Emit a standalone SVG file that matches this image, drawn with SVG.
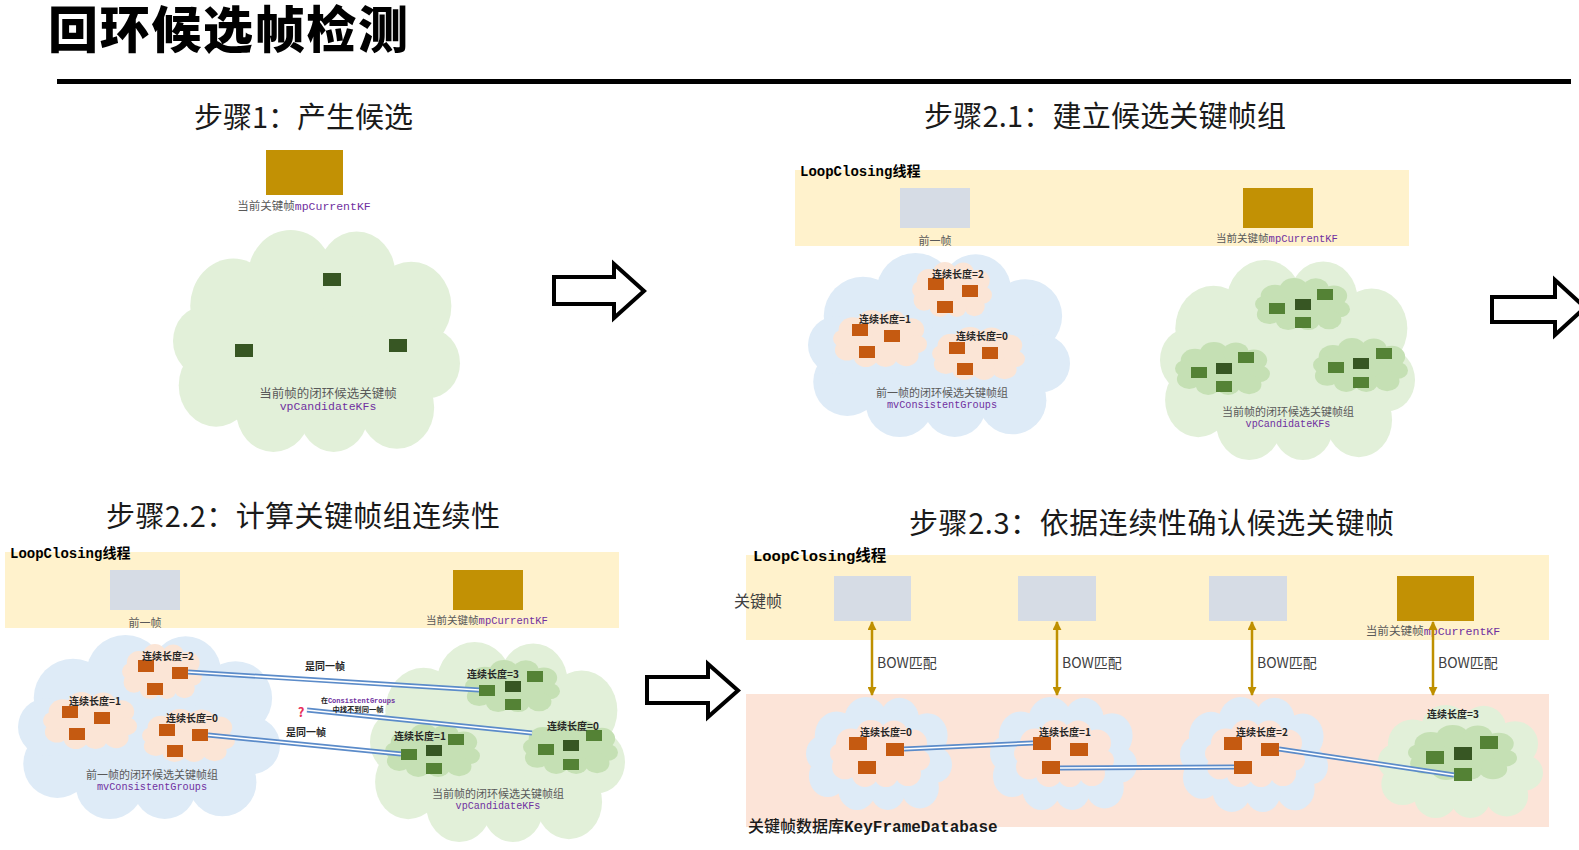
<svg xmlns="http://www.w3.org/2000/svg" width="1579" height="850" viewBox="0 0 1579 850">
<defs>
<style>
.cj{font-family:"Noto Sans CJK SC","Noto Sans",sans-serif}
.mono{font-family:"Liberation Mono","DejaVu Sans Mono",monospace}
.lbl{fill:#595959;dominant-baseline:central}
.lbm{fill:#595959}
.len{font-family:"Noto Sans CJK SC",sans-serif;font-weight:700;font-size:10px;fill:#262626;text-anchor:middle;dominant-baseline:central}
.step{font-family:"Noto Sans CJK SC",sans-serif;font-size:29px;fill:#1a1a1a;dominant-baseline:central}
.lc{font-weight:700;fill:#000}
.bowt{font-family:"Noto Sans CJK SC",sans-serif;font-size:14px;fill:#404040;dominant-baseline:central}
.band{fill:#FFF2CC}
.prev{fill:#D6DCE5}
.cur{fill:#C29104}
.or{fill:#C55A11}
.dg{fill:#375623}
.mg{fill:#548235}
.blk{fill:#fff;stroke:#000;stroke-width:4;stroke-linejoin:miter}
.dl{fill:none;stroke:#5B8BC9;stroke-width:5}
.dli{fill:none;stroke:#fff;stroke-width:1.6}
.bow{fill:none;stroke:#BF9000;stroke-width:2.5;marker-start:url(#ah);marker-end:url(#ah)}
.pur{fill:#7030A0}
</style>
<symbol id="cloud" viewBox="0 0 200 140" preserveAspectRatio="none" overflow="visible">
<ellipse cx="100" cy="72" rx="82" ry="50"/>
<circle cx="42" cy="48" r="30"/>
<circle cx="82" cy="30" r="30"/>
<circle cx="128" cy="28" r="27"/>
<circle cx="166" cy="48" r="28"/>
<circle cx="178" cy="84" r="22"/>
<circle cx="156" cy="112" r="26"/>
<circle cx="112" cy="116" r="24"/>
<circle cx="70" cy="114" r="26"/>
<circle cx="30" cy="98" r="26"/>
<circle cx="22" cy="70" r="22"/>
</symbol>
<marker id="ah" viewBox="0 0 10 10" refX="9" refY="5" markerWidth="3.6" markerHeight="3.6" orient="auto-start-reverse"><path d="M0,0 L10,5 L0,10 z" fill="#BF9000"/></marker>
</defs>

<rect width="1579" height="850" fill="#fff"/>

<g id="header">
<text x="48" y="48" textLength="360" lengthAdjust="spacing" font-family="Noto Sans CJK SC, sans-serif" font-weight="900" font-size="50" fill="#000">回环候选帧检测</text>
<rect x="57" y="79" width="1514" height="5" fill="#000"/>
</g>

<!-- Step 1 -->
<g id="step1">
<text class="step" x="194" y="115" textLength="219" lengthAdjust="spacing">步骤1：产生候选</text>
</g>
<g id="s1-current-kf">
<rect class="cur" x="266" y="150" width="77" height="45"/>
<text class="lbm" x="304" y="210" text-anchor="middle" font-size="11.5"><tspan class="cj">当前关键帧</tspan><tspan class="mono pur">mpCurrentKF</tspan></text>
</g>
<g id="s1-candidates">
<use href="#cloud" x="173" y="230" width="287" height="222" fill="#E2F0D9"/>
<rect class="dg" x="323" y="273" width="18" height="13"/>
<rect class="dg" x="235" y="344" width="18" height="13"/>
<rect class="dg" x="389" y="339" width="18" height="13"/>
<text class="lbl cj" x="328" y="392" text-anchor="middle" font-size="12.5">当前帧的闭环候选关键帧</text>
<text class="lbl mono pur" x="328" y="406" text-anchor="middle" font-size="11.5">vpCandidateKFs</text>
</g>

<!-- Step 2.1 -->
<g id="step21">
<text class="step" x="924" y="114" textLength="362" lengthAdjust="spacing">步骤2.1：建立候选关键帧组</text>
</g>
<g id="s21-thread">
<rect class="band" x="795" y="170" width="614" height="76"/>
<text class="lc" x="800" y="176" font-size="14"><tspan class="mono">LoopClosing</tspan><tspan class="cj">线程</tspan></text>
</g>
<g id="s21-prev">
<rect class="prev" x="900" y="188" width="70" height="40"/>
<text class="lbl cj" x="935" y="240" text-anchor="middle" font-size="11">前一帧</text>
</g>
<g id="s21-current-kf">
<rect class="cur" x="1243" y="188" width="70" height="40"/>
<text class="lbm" x="1277" y="242" text-anchor="middle" font-size="10.5"><tspan class="cj">当前关键帧</tspan><tspan class="mono pur">mpCurrentKF</tspan></text>
</g>
<g id="s21-groups">
<use href="#cloud" x="808" y="253" width="262" height="184" fill="#DEEBF7"/>
<use href="#cloud" x="912" y="262" width="80" height="55" fill="#FBE5D6"/>
<use href="#cloud" x="833" y="310" width="94" height="57" fill="#FBE5D6"/>
<use href="#cloud" x="932" y="327" width="93" height="53" fill="#FBE5D6"/>
<rect class="or" x="928" y="278" width="16" height="12"/><rect class="or" x="962" y="285" width="16" height="12"/><rect class="or" x="937" y="301" width="16" height="12"/>
<rect class="or" x="852" y="324" width="16" height="12"/><rect class="or" x="884" y="330" width="16" height="12"/><rect class="or" x="859" y="346" width="16" height="12"/>
<rect class="or" x="949" y="342" width="16" height="12"/><rect class="or" x="982" y="347" width="16" height="12"/><rect class="or" x="957" y="363" width="16" height="12"/>
<text class="len" x="958" y="273">连续长度=2</text>
<text class="len" x="885" y="318">连续长度=1</text>
<text class="len" x="982" y="335">连续长度=0</text>
<text class="lbl cj" x="942" y="392" text-anchor="middle" font-size="11">前一帧的闭环候选关键帧组</text>
<text class="lbl mono pur" x="942" y="405" text-anchor="middle" font-size="10.2">mvConsistentGroups</text>
</g>
<g id="s21-candidates">
<use href="#cloud" x="1160" y="260" width="255" height="200" fill="#E2F0D9"/>
<use href="#cloud" x="1255" y="278" width="95" height="52" fill="#C5E0B4"/>
<use href="#cloud" x="1175" y="342" width="95" height="53" fill="#C5E0B4"/>
<use href="#cloud" x="1313" y="338" width="95" height="54" fill="#C5E0B4"/>
<rect class="mg" x="1269" y="303" width="16" height="11"/><rect class="dg" x="1295" y="299" width="16" height="11"/><rect class="mg" x="1317" y="289" width="16" height="11"/><rect class="mg" x="1295" y="317" width="16" height="11"/>
<rect class="mg" x="1191" y="367" width="16" height="11"/><rect class="dg" x="1216" y="363" width="16" height="11"/><rect class="mg" x="1238" y="352" width="16" height="11"/><rect class="mg" x="1216" y="381" width="16" height="11"/>
<rect class="mg" x="1328" y="362" width="16" height="11"/><rect class="dg" x="1353" y="358" width="16" height="11"/><rect class="mg" x="1376" y="348" width="16" height="11"/><rect class="mg" x="1353" y="377" width="16" height="11"/>
<text class="lbl cj" x="1288" y="411" text-anchor="middle" font-size="11">当前帧的闭环候选关键帧组</text>
<text class="lbl mono pur" x="1288" y="424" text-anchor="middle" font-size="10.1">vpCandidateKFs</text>
</g>

<!-- Step 2.2 -->
<g id="step22">
<text class="step" x="106" y="514" textLength="394" lengthAdjust="spacing">步骤2.2：计算关键帧组连续性</text>
</g>
<g id="s22-thread">
<rect class="band" x="5" y="552" width="614" height="76"/>
<text class="lc" x="10" y="558" font-size="14"><tspan class="mono">LoopClosing</tspan><tspan class="cj">线程</tspan></text>
</g>
<g id="s22-prev">
<rect class="prev" x="110" y="570" width="70" height="40"/>
<text class="lbl cj" x="145" y="622" text-anchor="middle" font-size="11">前一帧</text>
</g>
<g id="s22-current-kf">
<rect class="cur" x="453" y="570" width="70" height="40"/>
<text class="lbm" x="487" y="624" text-anchor="middle" font-size="10.5"><tspan class="cj">当前关键帧</tspan><tspan class="mono pur">mpCurrentKF</tspan></text>
</g>
<g id="s22-groups">
<use href="#cloud" x="18" y="635" width="262" height="184" fill="#DEEBF7"/>
<use href="#cloud" x="122" y="644" width="80" height="55" fill="#FBE5D6"/>
<use href="#cloud" x="43" y="692" width="94" height="57" fill="#FBE5D6"/>
<use href="#cloud" x="142" y="709" width="93" height="53" fill="#FBE5D6"/>
<rect class="or" x="138" y="660" width="16" height="12"/><rect class="or" x="172" y="667" width="16" height="12"/><rect class="or" x="147" y="683" width="16" height="12"/>
<rect class="or" x="62" y="706" width="16" height="12"/><rect class="or" x="94" y="712" width="16" height="12"/><rect class="or" x="69" y="728" width="16" height="12"/>
<rect class="or" x="159" y="724" width="16" height="12"/><rect class="or" x="192" y="729" width="16" height="12"/><rect class="or" x="167" y="745" width="16" height="12"/>
<text class="len" x="168" y="655">连续长度=2</text>
<text class="len" x="95" y="700">连续长度=1</text>
<text class="len" x="192" y="717">连续长度=0</text>
<text class="lbl cj" x="152" y="774" text-anchor="middle" font-size="11">前一帧的闭环候选关键帧组</text>
<text class="lbl mono pur" x="152" y="787" text-anchor="middle" font-size="10.2">mvConsistentGroups</text>
</g>
<g id="s22-candidates">
<use href="#cloud" x="370" y="642" width="255" height="200" fill="#E2F0D9"/>
<use href="#cloud" x="465" y="660" width="95" height="52" fill="#C5E0B4"/>
<use href="#cloud" x="385" y="724" width="95" height="53" fill="#C5E0B4"/>
<use href="#cloud" x="523" y="720" width="95" height="54" fill="#C5E0B4"/>
<rect class="mg" x="479" y="685" width="16" height="11"/><rect class="dg" x="505" y="681" width="16" height="11"/><rect class="mg" x="527" y="671" width="16" height="11"/><rect class="mg" x="505" y="699" width="16" height="11"/>
<rect class="mg" x="401" y="749" width="16" height="11"/><rect class="dg" x="426" y="745" width="16" height="11"/><rect class="mg" x="448" y="734" width="16" height="11"/><rect class="mg" x="426" y="763" width="16" height="11"/>
<rect class="mg" x="538" y="744" width="16" height="11"/><rect class="dg" x="563" y="740" width="16" height="11"/><rect class="mg" x="586" y="730" width="16" height="11"/><rect class="mg" x="563" y="759" width="16" height="11"/>
<text class="len" x="493" y="673">连续长度=3</text>
<text class="len" x="420" y="735">连续长度=1</text>
<text class="len" x="573" y="725">连续长度=0</text>
<text class="lbl cj" x="498" y="793" text-anchor="middle" font-size="11">当前帧的闭环候选关键帧组</text>
<text class="lbl mono pur" x="498" y="806" text-anchor="middle" font-size="10.1">vpCandidateKFs</text>
</g>

<!-- Step 2.3 -->
<g id="step23">
<text class="step" x="909" y="521" textLength="485" lengthAdjust="spacing">步骤2.3：依据连续性确认候选关键帧</text>
</g>
<g id="s23-thread">
<rect class="band" x="746" y="555" width="803" height="85"/>
<text class="lc" x="753" y="561" font-size="15.5"><tspan class="mono">LoopClosing</tspan><tspan class="cj">线程</tspan></text>
<text class="cj" x="734" y="600" font-size="16" fill="#404040" dominant-baseline="central">关键帧</text>
</g>
<g id="s23-kf1"><rect class="prev" x="834" y="576" width="77" height="45"/></g>
<g id="s23-kf2"><rect class="prev" x="1018" y="576" width="78" height="45"/></g>
<g id="s23-kf3"><rect class="prev" x="1209" y="576" width="78" height="45"/></g>
<g id="s23-current-kf">
<rect class="cur" x="1397" y="576" width="77" height="45"/>
<text class="lbm" x="1433" y="635" text-anchor="middle" font-size="11.6"><tspan class="cj">当前关键帧</tspan><tspan class="mono pur">mpCurrentKF</tspan></text>
</g>
<g id="s23-database">
<rect x="746" y="694" width="803" height="133" fill="#FCE4D8"/>
<text x="748" y="832" font-size="16" fill="#1a1a1a"><tspan class="cj" font-weight="500">关键帧数据库</tspan><tspan class="mono" font-weight="700">KeyFrameDatabase</tspan></text>
</g>
<g id="s23-group0">
<use href="#cloud" x="806" y="697" width="146" height="113" fill="#DEEBF7"/>
<use href="#cloud" x="830" y="720" width="100" height="67" fill="#FCE4D8"/>
<rect class="or" x="849" y="737" width="18" height="13"/><rect class="or" x="886" y="743" width="18" height="13"/><rect class="or" x="858" y="761" width="18" height="13"/>
<text class="len" x="886" y="731">连续长度=0</text>
</g>
<g id="s23-group1">
<use href="#cloud" x="990" y="697" width="147" height="113" fill="#DEEBF7"/>
<use href="#cloud" x="1014" y="720" width="100" height="67" fill="#FCE4D8"/>
<rect class="or" x="1033" y="737" width="18" height="13"/><rect class="or" x="1070" y="743" width="18" height="13"/><rect class="or" x="1042" y="761" width="18" height="13"/>
<text class="len" x="1065" y="731">连续长度=1</text>
</g>
<g id="s23-group2">
<use href="#cloud" x="1180" y="697" width="148" height="115" fill="#DEEBF7"/>
<use href="#cloud" x="1205" y="720" width="100" height="67" fill="#FCE4D8"/>
<rect class="or" x="1224" y="737" width="18" height="13"/><rect class="or" x="1261" y="743" width="18" height="13"/><rect class="or" x="1234" y="761" width="18" height="13"/>
<text class="len" x="1262" y="731">连续长度=2</text>
</g>
<g id="s23-group3">
<use href="#cloud" x="1378" y="705" width="165" height="113" fill="#E2F0D9"/>
<use href="#cloud" x="1408" y="725" width="109" height="55" fill="#C5E0B4"/>
<rect class="mg" x="1426" y="751" width="18" height="13"/><rect class="dg" x="1454" y="747" width="18" height="13"/><rect class="mg" x="1480" y="736" width="18" height="13"/><rect class="mg" x="1454" y="768" width="18" height="13"/>
<text class="len" x="1453" y="713">连续长度=3</text>
</g>

<!-- Connectors -->
<g id="connectors">
<polygon class="blk" points="554,277 614,277 614,264 644,291 614,318 614,304 554,304"/>
<polygon class="blk" points="1492,297 1555,297 1555,280 1585,307.5 1555,335 1555,322 1492,322"/>
<polygon class="blk" points="647,677 708,677 708,664 738,690.5 708,717 708,703 647,703"/>

<line class="dl" x1="188" y1="672" x2="479" y2="690"/><line class="dli" x1="188" y1="672" x2="479" y2="690"/>
<line class="dl" x1="208" y1="735" x2="401" y2="754"/><line class="dli" x1="208" y1="735" x2="401" y2="754"/>
<line class="dl" x1="307" y1="710" x2="532" y2="733"/><line class="dli" x1="307" y1="710" x2="532" y2="733"/>
<text class="cj" x="325" y="665" font-size="10" font-weight="700" fill="#262626" text-anchor="middle" dominant-baseline="central">是同一帧</text>
<text class="cj" x="306" y="731" font-size="10" font-weight="700" fill="#262626" text-anchor="middle" dominant-baseline="central">是同一帧</text>
<text class="cj" x="301" y="711" font-size="13" font-weight="700" fill="#E8305A" text-anchor="middle" dominant-baseline="central">?</text>
<text x="358" y="702.5" font-size="7" font-weight="700" fill="#262626" text-anchor="middle"><tspan class="cj">在</tspan><tspan class="mono pur">ConsistentGroups</tspan></text>
<text class="cj" x="358" y="709" font-size="7.3" font-weight="700" fill="#262626" text-anchor="middle" dominant-baseline="central">中找不到同一帧</text>

<line class="dl" x1="904" y1="749" x2="1033" y2="743"/><line class="dli" x1="904" y1="749" x2="1033" y2="743"/>
<line class="dl" x1="1060" y1="768" x2="1234" y2="767"/><line class="dli" x1="1060" y1="768" x2="1234" y2="767"/>
<line class="dl" x1="1279" y1="749" x2="1454" y2="775"/><line class="dli" x1="1279" y1="749" x2="1454" y2="775"/>

<line class="bow" x1="872" y1="622" x2="872" y2="695"/>
<line class="bow" x1="1057" y1="622" x2="1057" y2="695"/>
<line class="bow" x1="1252" y1="622" x2="1252" y2="695"/>
<line class="bow" x1="1433" y1="622" x2="1433" y2="695"/>
<text class="bowt" x="877" y="662">BOW匹配</text>
<text class="bowt" x="1062" y="662">BOW匹配</text>
<text class="bowt" x="1257" y="662">BOW匹配</text>
<text class="bowt" x="1438" y="662">BOW匹配</text>
</g>
</svg>
